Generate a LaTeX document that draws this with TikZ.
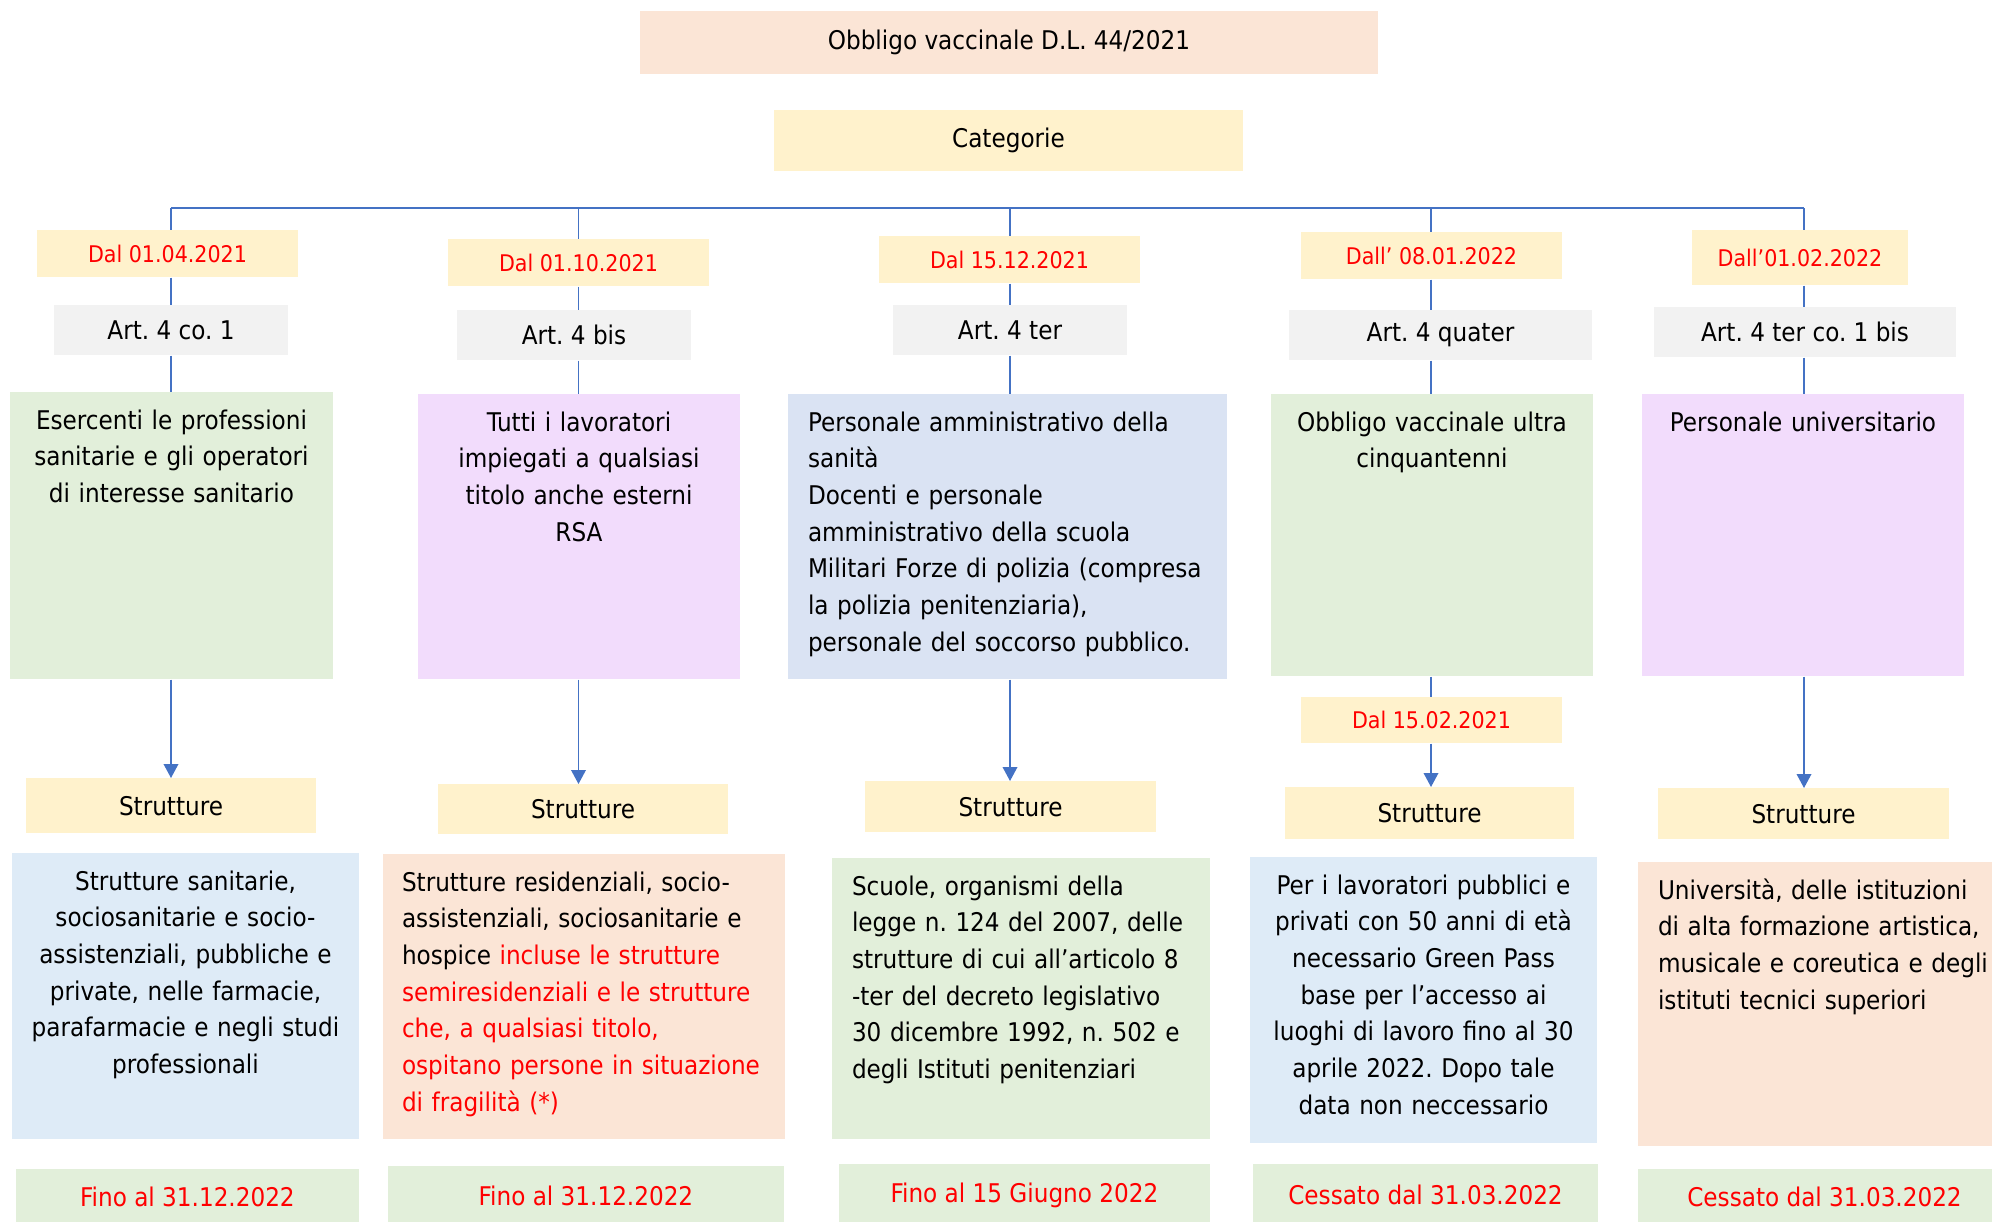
\documentclass[tikz,border=0pt]{standalone}
\usepackage{fontspec}
\setmainfont{DejaVu Sans Condensed}
\usepackage{tikz}
\usetikzlibrary{arrows.meta}
\definecolor{linkblue}{HTML}{4472C4}
\definecolor{peach}{HTML}{FBE5D6}
\definecolor{paleyellow}{HTML}{FFF2CC}
\definecolor{lightgrey}{HTML}{F2F2F2}
\definecolor{palegreen}{HTML}{E2EFDA}
\definecolor{paleblue}{HTML}{DAE3F3}
\definecolor{skyblue}{HTML}{DEEBF7}
\definecolor{lilac}{HTML}{F2DCFC}
\definecolor{datered}{HTML}{FF0000}
\newdimen\pxu \pxu=0.75pt
\newcommand\mainfs{\fontsize{19.3pt}{27.5pt}\selectfont}
\newcommand\datefs{\fontsize{17.2pt}{20pt}\selectfont}
\frenchspacing

\begin{document}
\begin{tikzpicture}[
  x=0.75pt, y=-0.75pt,
  conn/.style={draw=linkblue, line width=1.1pt},
  arr/.style={conn, -{Triangle[width=11pt, length=10.5pt]}},
  size/.style 2 args={minimum width=#1\pxu, minimum height=#2\pxu},
  box/.style={inner sep=0pt, anchor=north, font=\mainfs},
  headbox/.style={box, fill=peach},
  datebox/.style={box, fill=paleyellow, text=datered, font=\datefs},
  artbox/.style={box, fill=lightgrey},
  strbox/.style={box, fill=paleyellow},
  endbox/.style={box, fill=palegreen, text=datered},
  textbox/.style={box, text height=37\pxu}
]
\useasboundingbox (0,0) rectangle (1992,1221);

\node[headbox, size={738}{63}] (title) at (1009,11) {Obbligo vaccinale D.L. 44/2021};
\node[strbox, size={469}{61}] (cat) at (1008.5,110) {Categorie};

\coordinate (b1) at (171,208);
\coordinate (b2) at (578.5,208);
\coordinate (b3) at (1010,208);
\coordinate (b4) at (1431,208);
\coordinate (b5) at (1804,208);
\draw[conn] (b1) -- (b5);

\node[datebox, size={261}{47}] (d1) at (167.5,230) {Dal 01.04.2021};
\node[datebox, size={261}{47}] (d2) at (578.5,239) {Dal 01.10.2021};
\node[datebox, size={261}{47}] (d3) at (1009.5,236) {Dal 15.12.2021};
\node[datebox, size={261}{47}] (d4) at (1431.5,232) {Dall’ 08.01.2022};
\node[datebox, size={216}{55}] (d5) at (1800,230) {Dall’01.02.2022};

\node[artbox, size={234}{50}] (a1) at (171,305) {Art. 4 co. 1};
\node[artbox, size={234}{50}] (a2) at (574,310) {Art. 4 bis};
\node[artbox, size={234}{50}] (a3) at (1010,305) {Art. 4 ter};
\node[artbox, size={303}{50}] (a4) at (1440.5,310) {Art. 4 quater};
\node[artbox, size={302}{50}] (a5) at (1805,307) {Art. 4 ter co. 1 bis};

% categorie
\node[textbox, fill=palegreen, align=center, minimum width=323\pxu, text width=303\pxu, text depth=250\pxu] (c1) at (171.5,392)
  {Esercenti le professioni\\sanitarie e gli operatori\\di interesse sanitario};
\node[textbox, fill=lilac, align=center, minimum width=322\pxu, text width=302\pxu, text depth=248\pxu] (c2) at (579,394)
  {Tutti i lavoratori\\impiegati a qualsiasi\\titolo anche esterni\\RSA};
\node[textbox, fill=paleblue, align=left, minimum width=439\pxu, text width=399\pxu, text depth=248\pxu] (c3) at (1007.5,394)
  {Personale amministrativo della\\sanità\\Docenti e personale\\amministrativo della scuola\\Militari Forze di polizia (compresa\\la polizia penitenziaria),\\personale del soccorso pubblico.};
\node[textbox, fill=palegreen, align=center, minimum width=322\pxu, text width=302\pxu, text depth=245\pxu] (c4) at (1432,394)
  {Obbligo vaccinale ultra\\cinquantenni};
\node[textbox, fill=lilac, align=center, minimum width=322\pxu, text width=302\pxu, text depth=245\pxu] (c5) at (1803,394)
  {Personale universitario};

\node[datebox, size={261}{46}] (d6) at (1431.5,697) {Dal 15.02.2021};

\node[strbox, size={290}{55}] (s1) at (171,778) {Strutture};
\node[strbox, size={290}{50}] (s2) at (583,784) {Strutture};
\node[strbox, size={291}{51}] (s3) at (1010.5,781) {Strutture};
\node[strbox, size={289}{52}] (s4) at (1429.5,787) {Strutture};
\node[strbox, size={291}{51}] (s5) at (1803.5,788) {Strutture};

% strutture
\node[textbox, fill=skyblue, align=center, minimum width=347\pxu, text width=327\pxu, text depth=249\pxu] (r1) at (185.5,853)
  {Strutture sanitarie,\\sociosanitarie e socio-\\assistenziali, pubbliche e\\private, nelle farmacie,\\parafarmacie e negli studi\\professionali};
\node[textbox, fill=peach, align=left, minimum width=402\pxu, text width=364\pxu, text depth=248\pxu] (r2) at (584,854)
  {Strutture residenziali, socio-\\assistenziali, sociosanitarie e\\hospice {\color{datered}incluse le strutture\\semiresidenziali e le strutture\\che, a qualsiasi titolo,\\ospitano persone in situazione\\di fragilità (*)}};
\node[textbox, fill=palegreen, align=left, minimum width=378\pxu, text width=338\pxu, text depth=244\pxu] (r3) at (1021,858)
  {Scuole, organismi della\\legge n. 124 del 2007, delle\\strutture di cui all’articolo 8\\-ter del decreto legislativo\\30 dicembre 1992, n. 502 e\\degli Istituti penitenziari};
\node[textbox, fill=skyblue, align=center, minimum width=347\pxu, text width=327\pxu, text depth=249\pxu] (r4) at (1423.5,857)
  {Per i lavoratori pubblici e\\privati con 50 anni di età\\necessario Green Pass\\base per l’accesso ai\\luoghi di lavoro fino al 30\\aprile 2022. Dopo tale\\data non neccessario};
\node[textbox, fill=peach, align=left, minimum width=380\pxu, text width=340\pxu, text depth=247\pxu] (r5) at (1828,862)
  {Università, delle istituzioni\\di alta formazione artistica,\\musicale e coreutica e degli\\istituti tecnici superiori};

\node[endbox, size={343}{56}] (e1) at (187.5,1169) {Fino al 31.12.2022};
\node[endbox, size={396}{60}] (e2) at (586,1166) {Fino al 31.12.2022};
\node[endbox, size={371}{62}] (e3) at (1024.5,1164) {Fino al 15 Giugno 2022};
\node[endbox, size={345}{62}] (e4) at (1425.5,1164) {Cessato dal 31.03.2022};
\node[endbox, size={373}{56}] (e5) at (1824.5,1169) {Cessato dal 31.03.2022};

\draw[conn] (b1) -- (d1.north -| b1);
\draw[conn] (b2) -- (d2.north -| b2);
\draw[conn] (b3) -- (d3.north -| b3);
\draw[conn] (b4) -- (d4.north -| b4);
\draw[conn] (b5) -- (d5.north -| b5);
\draw[conn] (d1.south -| b1) -- (a1.north -| b1);
\draw[conn] (d2.south -| b2) -- (a2.north -| b2);
\draw[conn] (d3.south -| b3) -- (a3.north -| b3);
\draw[conn] (d4.south -| b4) -- (a4.north -| b4);
\draw[conn] (d5.south -| b5) -- (a5.north -| b5);
\draw[conn] (a1.south -| b1) -- (c1.north -| b1);
\draw[conn] (a2.south -| b2) -- (c2.north -| b2);
\draw[conn] (a3.south -| b3) -- (c3.north -| b3);
\draw[conn] (a4.south -| b4) -- (c4.north -| b4);
\draw[conn] (a5.south -| b5) -- (c5.north -| b5);

\draw[arr] (c1.south -| b1) -- (s1.north -| b1);
\draw[arr] (c2.south -| b2) -- (s2.north -| b2);
\draw[arr] (c3.south -| b3) -- (s3.north -| b3);
\draw[conn] (c4.south -| b4) -- (d6.north -| b4);
\draw[arr] (d6.south -| b4) -- (s4.north -| b4);
\draw[arr] (c5.south -| b5) -- (s5.north -| b5);
\end{tikzpicture}
\end{document}
